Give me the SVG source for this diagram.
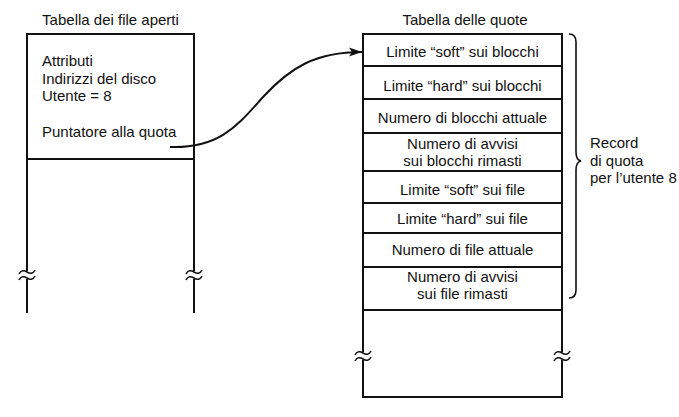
<svg xmlns="http://www.w3.org/2000/svg" width="679" height="417" viewBox="0 0 679 417">
<style>
text{font-family:"Liberation Sans",Arial,sans-serif;font-size:15px;fill:#111}
.c{text-anchor:middle}
.ln{stroke:#111;stroke-width:2;fill:none}
.br{stroke:#111;stroke-width:1.6;fill:none}
</style>
<defs>
<marker id="ah" markerWidth="14" markerHeight="10" refX="13" refY="5" orient="auto" markerUnits="userSpaceOnUse">
<path d="M0,0.5 L13,5 L0,9.5 L3,5 Z" fill="#111"/>
</marker>
<g id="brk">
<rect x="-6" y="-4" width="12" height="8" fill="#fff"/>
<path class="br" d="M-8,-1 C-6,-5 -3,-5 0,-3 C3,-1 6,-1 8,-5"/>
<path class="br" d="M-8,5 C-6,1 -3,1 0,3 C3,5 6,5 8,1"/>
</g>
</defs>
<rect width="679" height="417" fill="#fff"/>

<g id="open-files-table">
<text class="c" x="110.5" y="25">Tabella dei file aperti</text>
<path class="ln" d="M27,313 V34 H194 V313 M27,159 H194"/>
<use href="#brk" x="27" y="275"/>
<use href="#brk" x="194" y="275"/>
<text x="42" y="66">Attributi</text>
<text x="42" y="83.5">Indirizzi del disco</text>
<text x="42" y="101">Utente = 8</text>
<text x="42" y="137">Puntatore alla quota</text>
</g>

<g id="quota-table">
<text class="c" x="465" y="25">Tabella delle quote</text>
<rect class="ln" x="363" y="34" width="199" height="363"/>
<path class="ln" d="M363,66 H562 M363,99 H562 M363,133 H562 M363,171 H562 M363,203 H562 M363,233 H562 M363,267 H562 M363,310 H562"/>
<use href="#brk" x="363" y="356"/>
<use href="#brk" x="562" y="356"/>
<text class="c" x="462.5" y="57">Limite “soft” sui blocchi</text>
<text class="c" x="462.5" y="90.5">Limite “hard” sui blocchi</text>
<text class="c" x="462.5" y="123">Numero di blocchi attuale</text>
<text class="c" x="462.5" y="149">Numero di avvisi</text>
<text class="c" x="462.5" y="165.5">sui blocchi rimasti</text>
<text class="c" x="462.5" y="195">Limite “soft” sui file</text>
<text class="c" x="462.5" y="224">Limite “hard” sui file</text>
<text class="c" x="462.5" y="255">Numero di file attuale</text>
<text class="c" x="462.5" y="282">Numero di avvisi</text>
<text class="c" x="462.5" y="298.5">sui file rimasti</text>
</g>

<g id="record-brace">
<path class="br" d="M569,34 Q576,34 576,42 V152 Q576,160 581,161 Q576,162 576,170 V290 Q576,298 569,298"/>
<text x="590" y="148">Record</text>
<text x="590" y="165.5">di quota</text>
<text x="590" y="183">per l’utente 8</text>
</g>

<g id="connectors">
<path class="ln" d="M170,147 C222,149 240,122 264,96 C290,68 315,52 362,52" marker-end="url(#ah)"/>
</g>
</svg>
